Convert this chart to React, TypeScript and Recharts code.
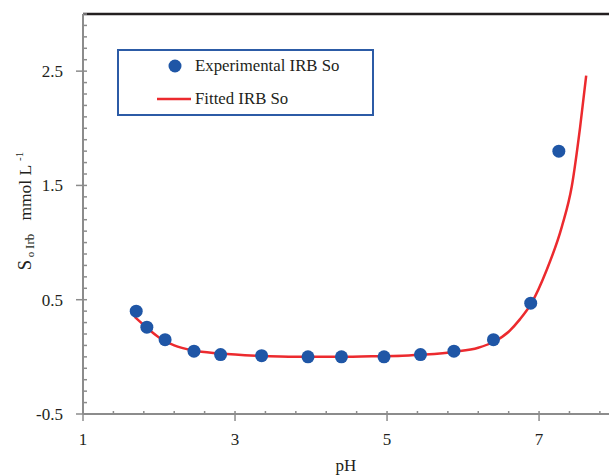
import React from "react";
import {
  ComposedChart,
  Line,
  Scatter,
  XAxis,
  YAxis,
  ReferenceLine,
  Legend,
} from "recharts";

// experimental points
const expPH = [1.7, 1.84, 2.08, 2.46, 2.81, 3.35, 3.96, 4.4, 4.96, 5.44, 5.88, 6.4, 6.89, 7.26];
const expS = [0.4, 0.26, 0.15, 0.05, 0.02, 0.01, 0.0, 0.0, 0.0, 0.02, 0.05, 0.15, 0.47, 1.8];

// fitted curve
const fitPH = [1.68, 1.84, 2.0, 2.2, 2.45, 2.8, 3.3, 3.8, 4.3, 4.8, 5.2, 5.5, 5.9, 6.2, 6.4, 6.6, 6.75, 6.9, 7.1, 7.3, 7.43, 7.54, 7.62];
const fitS = [0.35, 0.255, 0.17, 0.1, 0.055, 0.03, 0.01, 0.0, 0.0, 0.005, 0.01, 0.02, 0.045, 0.08, 0.13, 0.22, 0.33, 0.47, 0.76, 1.14, 1.49, 2.01, 2.46];

const xMajor = [1, 3, 5, 7];
const yMajor = [-0.5, 0.5, 1.5, 2.5];

const xTicks: number[] = [];
for (let i = 0; i <= 17; i++) xTicks.push(Math.round((1 + i * 0.4) * 10) / 10);
const yTicks: number[] = [];
for (let i = 0; i <= 35; i++) yTicks.push(Math.round((-0.5 + i * 0.1) * 10) / 10);

const points = expPH.map((ph, i) => ({ ph, s: expS[i] }));
const curve = fitPH.map((ph, i) => ({ ph, s: fitS[i] }));

const FONT = "'Liberation Serif', 'Times New Roman', serif";
const AXIS = "#8c8c8c";
const TXT = "#231f20";
const BLUE = "#1f56a6";
const RED = "#ec2a2e";

const isMajor = (list: number[], v: number) => list.some((m) => Math.abs(m - v) < 1e-6);

const XTick = (props: any) => {
  const { x, y, payload } = props;
  const major = isMajor(xMajor, payload.value);
  return (
    <g>
      <line x1={x} x2={x} y1={y - 3} y2={major ? y + 7 : y} stroke={AXIS} strokeWidth={1.5} />
      {major && (
        <text x={x} y={y + 31} textAnchor="middle" fontSize={17} fontFamily={FONT} fill={TXT}>
          {payload.value}
        </text>
      )}
    </g>
  );
};

const YTick = (props: any) => {
  const { x, y, payload } = props;
  const major = isMajor(yMajor, payload.value);
  return (
    <g>
      <line x1={major ? x - 7 : x} x2={x + 4} y1={y} y2={y} stroke={AXIS} strokeWidth={1.5} />
      {major && (
        <text x={x - 20} y={y + 6} textAnchor="end" fontSize={17} fontFamily={FONT} fill={TXT}>
          {payload.value}
        </text>
      )}
    </g>
  );
};

const renderLegend = () => (
  <svg width={257} height={67} style={{ display: "block" }}>
    <rect x={1} y={1} width={255} height={65} fill="#fff" stroke="#2c5ba6" strokeWidth={2} />
    <circle cx={58} cy={17} r={6.5} fill={BLUE} />
    <text x={78} y={22} fontSize={16.8} fontFamily={FONT} fill={TXT}>
      Experimental IRB So
    </text>
    <line x1={40} x2={74} y1={50} y2={50} stroke={RED} strokeWidth={2.5} />
    <text x={78} y={55} fontSize={16.8} fontFamily={FONT} fill={TXT}>
      Fitted IRB So
    </text>
  </svg>
);

const YLabel = () => (
  <text
    transform="translate(31, 211) rotate(-90)"
    textAnchor="middle"
    fontFamily={FONT}
    fill={TXT}
    fontSize={17.5}
  >
    <tspan fontSize={18.5}>S</tspan>
    <tspan fontSize={11} dy={3}> o </tspan>
    <tspan fontSize={13}>Irb</tspan>
    <tspan dy={-3}>{"\u00a0\u00a0\u00a0mmol L "}</tspan>
    <tspan fontSize={11} dy={-8}>-1</tspan>
  </text>
);

const XLabel = (props: any) => {
  const { viewBox } = props;
  return (
    <text
      x={viewBox.x + viewBox.width / 2}
      y={471}
      textAnchor="middle"
      fontSize={17}
      fontFamily={FONT}
      fill={TXT}
    >
      pH
    </text>
  );
};

export default function App() {
  return (
    <div style={{ position: "absolute", left: 0, top: 0, width: 609, height: 476, background: "#fff" }}>
      <ComposedChart
        width={609}
        height={476}
        margin={{ top: 14, right: 0, bottom: 0, left: 0 }}
      >
        <XAxis
          dataKey="ph"
          type="number"
          domain={[1, 7.92]}
          ticks={xTicks}
          interval={0}
          allowDataOverflow
          height={62}
          tickSize={0}
          tickMargin={0}
          tickLine={false}
          tick={<XTick />}
          axisLine={{ stroke: AXIS, strokeWidth: 2 }}
          label={<XLabel />}
        />
        <YAxis
          dataKey="s"
          type="number"
          domain={[-0.5, 3]}
          ticks={yTicks}
          interval={0}
          allowDataOverflow
          width={83}
          tickSize={0}
          tickMargin={0}
          tickLine={false}
          tick={<YTick />}
          axisLine={{ stroke: AXIS, strokeWidth: 2 }}
          label={<YLabel />}
        />
        <ReferenceLine y={3} stroke="#231f20" strokeWidth={2.5} />
        <Line
          data={curve}
          dataKey="s"
          type="monotone"
          stroke={RED}
          strokeWidth={2.5}
          dot={false}
          activeDot={false}
          isAnimationActive={false}
        />
        <Scatter
          data={points}
          dataKey="s"
          fill={BLUE}
          shape={(p: any) => <circle cx={p.cx} cy={p.cy} r={6.5} fill={BLUE} />}
          isAnimationActive={false}
        />
        <Legend
          content={renderLegend}
          layout="horizontal"
          verticalAlign="middle"
          align="center"
          wrapperStyle={{ left: 117, top: 49, width: 257, height: 67 }}
        />
      </ComposedChart>
    </div>
  );
}
